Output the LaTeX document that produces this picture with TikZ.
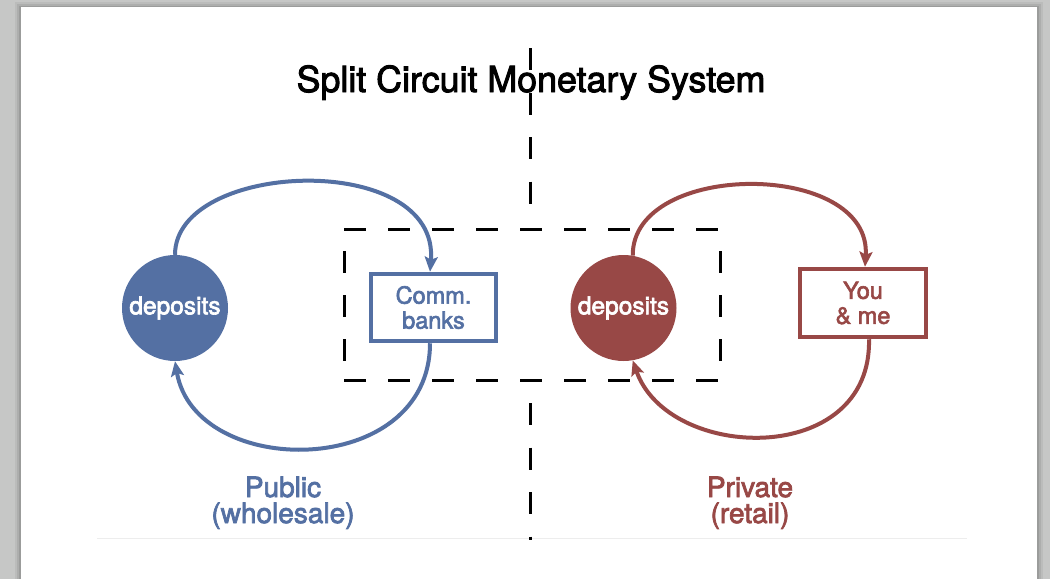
\documentclass[tikz,border=0pt]{standalone}
\usepackage{fontspec}
\setmainfont{TeX Gyre Heros}
\newfontfamily\medium{TeX Gyre Heros}[FakeBold=2.6]
\usetikzlibrary{arrows.meta}

\definecolor{pubblue}{RGB}{84,112,163}
\definecolor{privred}{RGB}{152,72,70}
\definecolor{desk}{RGB}{198,199,198}

\tikzset{
  pool/.style={circle, fill=#1, minimum size=106pt, inner sep=0pt,
    text=white, font=\medium\fontsize{24.5}{26}\selectfont},
  holder/.style={draw=#1, line width=4.5pt, text=#1, inner sep=0pt,
    align=center, font=\medium\fontsize{23.5}{25}\selectfont},
  flow/.style={draw=#1, line width=4pt,
    -{Stealth[length=15pt,width=13pt,inset=3pt]}},
  split/.style={line width=3pt, dash pattern=on 22pt off 22pt},
  sector/.style={text=#1, align=center, anchor=base,
    font=\medium\fontsize{28}{26}\selectfont},
}

\begin{document}
\begin{tikzpicture}[x=1pt, y=-1pt]
\useasboundingbox (0,0) rectangle (1050,579);

% desk and page with soft shadow
\fill[desk] (0,0) rectangle (1050,579);
\fill[black, opacity=0.05] (15,2) rectangle (1043,579);
\fill[black, opacity=0.07] (17,4) rectangle (1041,579);
\fill[black, opacity=0.10] (19,6) rectangle (1039,579);
\fill[white] (21,7) rectangle (1037,579);
\draw[black!7, line width=1pt] (97,538) -- (967,538);

% title
\node[anchor=base, font=\medium\fontsize{35.8}{38}\selectfont] (title) at (531,92)
  {Split Circuit Monetary System};

% divider between the two circuits
\draw[split, dash pattern=on 22pt off 22.5pt] (530.5,48) -- (530.5,205);
\draw[split, dash pattern=on 22pt off 22.5pt] (530.5,403) -- (530.5,540);

% dashed frame around the banks
\coordinate (fnw) at (344,229);
\coordinate (fne) at (720,229);
\coordinate (fsw) at (344,380);
\coordinate (fse) at (720,380);
\draw[split] (fnw) -- (fne);
\draw[split] (fsw) -- (fse);
\draw[split, dash phase=22pt] (fnw) -- (fsw);
\draw[split, dash phase=22pt] (fne) -- (fse);

% public circuit
\node[pool=pubblue] (c1) at (175,308) {deposits};
\node[holder=pubblue, minimum width=125pt, minimum height=67pt] (b1)
  at (433.5,307.5) {Comm.\\banks};
\draw[flow=pubblue] (c1.north) .. controls (175,160) and (440,150)
  .. ([xshift=-3.5pt]b1.north);
\draw[flow=pubblue] ([xshift=-3.5pt]b1.south) .. controls (430,480) and (195,480)
  .. (c1.south);

% private circuit
\node[pool=privred] (c2) at (623.5,308) {deposits};
\node[holder=privred, minimum width=126pt, minimum height=68pt] (y1)
  at (863,303) {You\\\& me};
\draw[flow=privred] (c2.80) .. controls (632,160) and (872,160)
  .. ([xshift=2pt]y1.north);
\draw[flow=privred] ([xshift=6pt]y1.south) .. controls (872,468) and (668,462)
  .. (c2.-80);

% sector labels
\node[sector=pubblue] (pub) at (283,523) {Public\\(wholesale)};
\node[sector=privred] (priv) at (750,523) {Private\\(retail)};
\end{tikzpicture}
\end{document}
